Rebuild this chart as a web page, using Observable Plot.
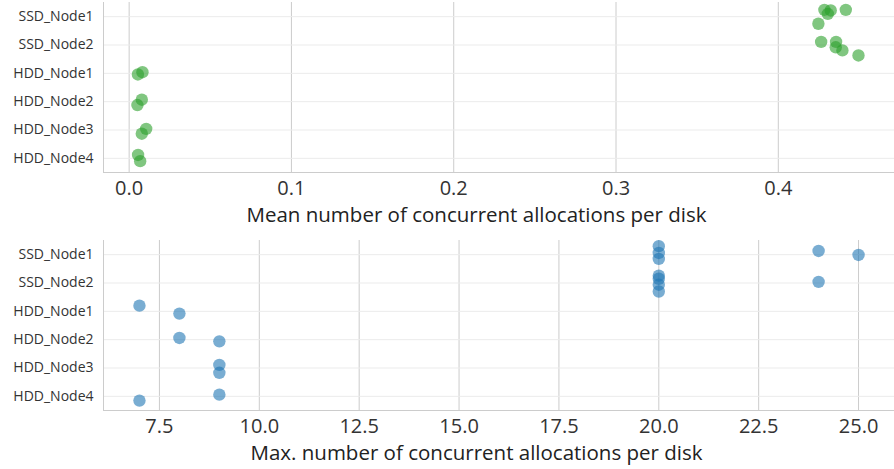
<!DOCTYPE html>
<html>
<head>
<meta charset="utf-8">
<script src="https://cdn.jsdelivr.net/npm/d3@7"></script>
<script src="https://cdn.jsdelivr.net/npm/@observablehq/plot@0.6"></script>
<style>
  body { margin: 0; background: #fff; }
  svg { display: block; }
</style>
</head>
<body>
<div id="chart"></div>
<script>
// Categories (top to bottom)
const categories = ["SSD_Node1", "SSD_Node2", "HDD_Node1", "HDD_Node2", "HDD_Node3", "HDD_Node4"];

// Panel 1: mean number of concurrent allocations per disk
const meanNode = ["SSD_Node1","SSD_Node1","SSD_Node1","SSD_Node1","SSD_Node1",
                  "SSD_Node2","SSD_Node2","SSD_Node2","SSD_Node2","SSD_Node2",
                  "HDD_Node1","HDD_Node1","HDD_Node2","HDD_Node2",
                  "HDD_Node3","HDD_Node3","HDD_Node4","HDD_Node4"];
const meanValue = [0.4284, 0.4323, 0.4305, 0.4416, 0.4247,
                   0.4264, 0.4356, 0.4354, 0.4395, 0.4494,
                   0.0082, 0.0054, 0.0078, 0.0051,
                   0.0105, 0.0078, 0.0055, 0.0068];
// vertical jitter (in rows, positive = downward)
const meanJitter = [-0.24, -0.22, -0.10, -0.24, 0.25,
                    -0.11, -0.11, 0.08, 0.19, 0.37,
                    -0.04, 0.04, -0.07, 0.12,
                    -0.04, 0.13, -0.12, 0.10];

// Panel 2: max number of concurrent allocations per disk
const maxNode = ["SSD_Node1","SSD_Node1","SSD_Node1","SSD_Node1","SSD_Node1",
                 "SSD_Node2","SSD_Node2","SSD_Node2","SSD_Node2","SSD_Node2",
                 "HDD_Node1","HDD_Node1","HDD_Node2","HDD_Node2",
                 "HDD_Node3","HDD_Node3","HDD_Node4","HDD_Node4"];
const maxValue = [20, 20, 20, 24, 25,
                  20, 20, 20, 20, 24,
                  7, 8, 8, 9,
                  9, 9, 9, 7];
const maxJitter = [-0.30, -0.06, 0.15, -0.13, 0.01,
                   -0.26, -0.15, 0.06, 0.30, -0.04,
                   -0.20, 0.08, -0.06, 0.06,
                   -0.11, 0.17, -0.06, 0.15];

const meanTicks = [0, 0.1, 0.2, 0.3, 0.4];
const maxTicks = [7.5, 10, 12.5, 15, 17.5, 20, 22.5, 25];
const meanDomain = [-0.0158, 0.4716];
const maxDomain = [6.1, 25.9];
const yDomain = [-0.5, 5.5];

const meanTitle = "Mean number of concurrent allocations per disk";
const maxTitle = "Max. number of concurrent allocations per disk";

function rows(nodes, values, jitter) {
  return nodes.map((n, i) => ({node: n, value: values[i], jitter: jitter[i]}));
}

function panel({data, ticks, domain, title, color, height, marginTop, marginBottom}) {
  return Plot.plot({
    width: 894,
    height,
    marginTop,
    marginBottom,
    marginLeft: 103,
    marginRight: 0,
    style: {fontFamily: "'Open Sans', sans-serif", background: "#fff", overflow: "visible"},
    x: {domain, label: null},
    y: {domain: yDomain, reverse: true, label: null},
    marks: [
      Plot.gridX(ticks, {stroke: "#cccccc", strokeOpacity: 1, strokeWidth: 1}),
      Plot.gridY(categories.map((c, i) => i), {stroke: "#ebebeb", strokeOpacity: 1, strokeWidth: 1}),
      Plot.ruleX([domain[0]], {stroke: "#cccccc", strokeWidth: 1}),
      Plot.ruleY([yDomain[1]], {stroke: "#cccccc", strokeWidth: 1}),
      Plot.axisY(categories.map((c, i) => i), {
        tickSize: 0, tickPadding: 10, fontSize: 14, fill: "#333",
        tickFormat: i => categories[i], label: null
      }),
      Plot.axisX(ticks, {
        tickSize: 0, tickPadding: 8, fontSize: 20, fill: "#333",
        tickFormat: d3.format(".1f"), label: null
      }),
      Plot.text([title], {
        text: d => d, frameAnchor: "bottom", lineAnchor: "middle",
        dx: -22.5, dy: 42.5, fontSize: 20.5, fill: "#222"
      }),
      Plot.dot(data, {
        x: "value",
        y: d => categories.indexOf(d.node) + d.jitter,
        r: 6.2, fill: color, fillOpacity: 0.6, stroke: "none"
      })
    ]
  });
}

const root = document.getElementById("chart");
root.append(panel({
  data: rows(meanNode, meanValue, meanJitter),
  ticks: meanTicks, domain: meanDomain, title: meanTitle,
  color: "#2ca02c", height: 230, marginTop: 2, marginBottom: 58
}));
root.append(panel({
  data: rows(maxNode, maxValue, maxJitter),
  ticks: maxTicks, domain: maxDomain, title: maxTitle,
  color: "#1f77b4", height: 239, marginTop: 10, marginBottom: 59
}));
</script>
</body>
</html>
